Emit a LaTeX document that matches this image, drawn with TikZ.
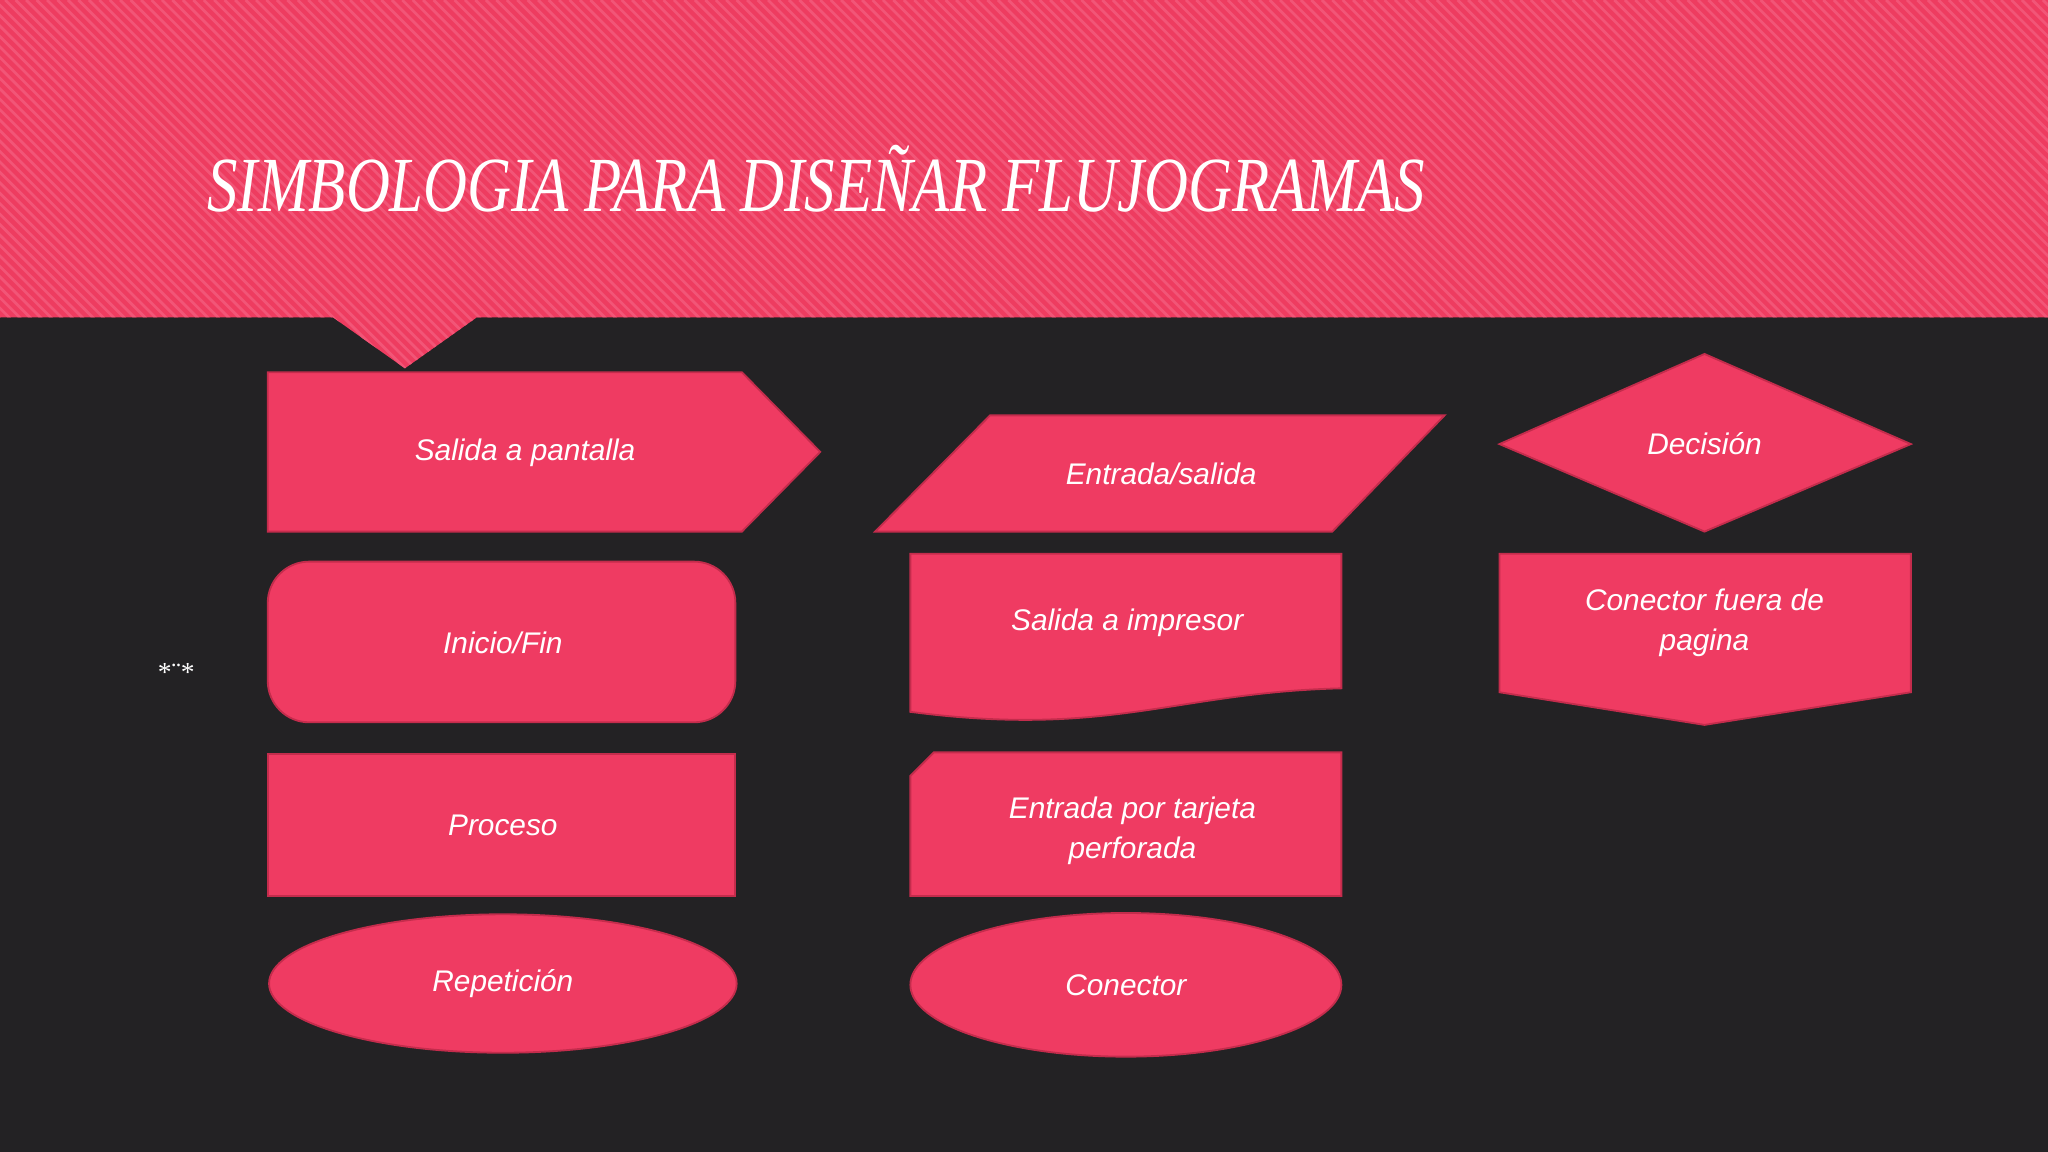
\documentclass[tikz,border=0pt]{standalone}
\usepackage{fontspec}
\setmainfont{Liberation Sans}
\newfontfamily\titlefont{Liberation Serif}
\definecolor{bg}{HTML}{232224}
\definecolor{pinkband}{HTML}{EE3C60}
\definecolor{stripe}{HTML}{F25577}
\definecolor{shapefill}{HTML}{EF3B62}
\definecolor{shapeline}{HTML}{C42C4C}
\begin{document}
\begin{tikzpicture}[x=0.02cm,y=-0.02cm,
  sym/.style={fill=shapefill,draw=shapeline,line width=0.8pt},
  lbl/.style={text=white,font=\fontsize{13}{17.6}\selectfont\itshape,align=center}]
\useasboundingbox (0,0) rectangle (1568,882);
\fill[bg] (0,0) rectangle (1568,882);
% band
\fill[pinkband] (0,0) -- (1568,0) -- (1568,243) -- (365,243) -- (310,282) -- (255,243) -- (0,243) -- cycle;
\begin{scope}
\clip (0,0) -- (1568,0) -- (1568,243) -- (365,243) -- (310,282) -- (255,243) -- (0,243) -- cycle;
\foreach \i in {-300,-292,...,1900} {\draw[stripe,line width=1.2pt] (\i,0) -- (\i+290,290);}
\end{scope}
\node[text=white,font=\titlefont\itshape\fontsize{34}{36}\selectfont,xscale=0.78,anchor=west] (title) at (154,137) {SIMBOLOGIA PARA DISEÑAR FLUJOGRAMAS};
% shapes
\draw[sym] (205,285) -- (568,285) -- (628,346) -- (568,407) -- (205,407) -- cycle;
\node[lbl] (pantalla) at (402,347) {Salida a pantalla};
\draw[sym] (670,407) -- (758,318) -- (1106,318) -- (1020,407) -- cycle;
\node[lbl] (es) at (889,363) {Entrada/salida};
\draw[sym] (1148,340) -- (1305,271) -- (1463,340) -- (1305,407) -- cycle;
\node[lbl] (dec) at (1305,340) {Decisión};
\draw[sym,rounded corners=18] (205,430) rectangle (563,553);
\node[lbl] (ini) at (385,492) {Inicio/Fin};
\draw[sym] (697,424) -- (1027,424) -- (1027,527) .. controls (900,530) and (850,565) .. (697,545) -- cycle;
\node[lbl] (imp) at (863,477) {Salida a impresor};
\draw[sym] (1148,424) -- (1463,424) -- (1463,530) -- (1305,555) -- (1148,530) -- cycle;
\node[lbl] (cfp) at (1305,477) {Conector fuera de\\pagina};
\draw[sym] (205,577) rectangle (563,686);
\node[lbl] (proc) at (385,632) {Proceso};
\draw[sym] (715,576) -- (1027,576) -- (1027,686) -- (697,686) -- (697,594) -- cycle;
\node[lbl] (tarj) at (867,636) {Entrada por tarjeta\\perforada};
\draw[sym] (385,753) ellipse [x radius=179,y radius=53];
\node[lbl] (rep) at (385,753) {Repetición};
\draw[sym] (862,754) ellipse [x radius=165,y radius=55];
\node[lbl] (con) at (862,754) {Conector};
\node[text=white,font=\titlefont\fontsize{12}{14}\selectfont] (ast) at (135,515) {*¨*};
\end{tikzpicture}
\end{document}
